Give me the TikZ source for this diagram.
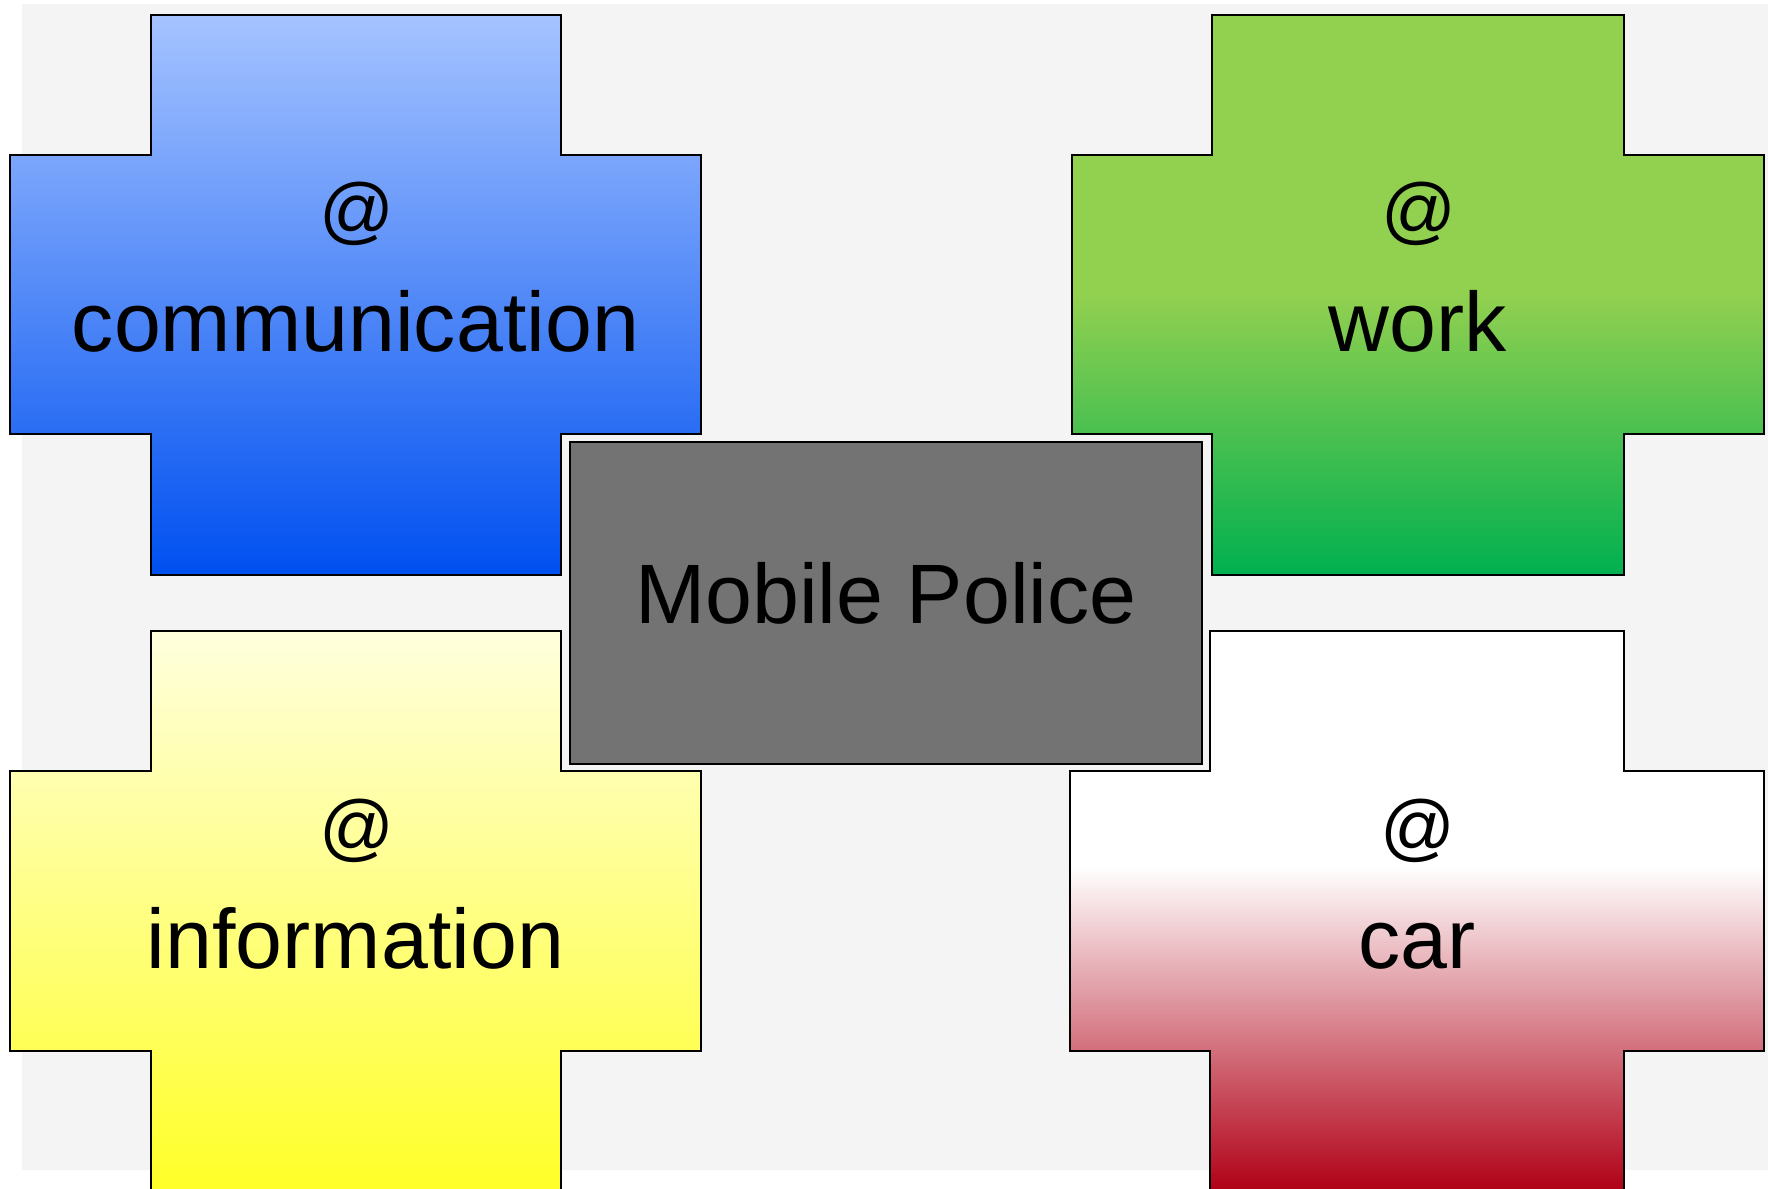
\documentclass[tikz,border=0pt]{standalone}
\usepackage{fontspec}
\setmainfont{Liberation Sans}

\definecolor{canvas}{HTML}{F4F4F4}
\definecolor{skytop}{RGB}{165,195,255}
\definecolor{skybottom}{RGB}{0,80,240}
\definecolor{leaflight}{HTML}{92D050}
\definecolor{leafdark}{HTML}{00B050}
\definecolor{creamtop}{RGB}{255,255,222}
\definecolor{creambottom}{RGB}{255,255,40}
\definecolor{wine}{RGB}{176,0,22}
\definecolor{boxgrey}{HTML}{737373}

\pgfdeclareverticalshading{greenfade}{100bp}{color(0bp)=(leafdark); color(25bp)=(leafdark); color(50bp)=(leaflight); color(100bp)=(leaflight)}
\pgfdeclareverticalshading{redfade}{100bp}{color(0bp)=(wine); color(25bp)=(wine); color(54bp)=(white); color(100bp)=(white)}

\tikzset{
  crossshape/.style={draw=black, line width=1.2pt},
  atsign/.style={anchor=base, inner sep=0pt, font=\fontsize{42}{50}\selectfont},
  crosslabel/.style={anchor=base, inner sep=0pt, font=\fontsize{48}{58}\selectfont},
  centrebox/.style={draw=black, line width=1.2pt, fill=boxgrey, minimum width=12.64cm,
    minimum height=6.44cm, text depth=11pt, font=\fontsize{48}{58}\selectfont}
}

\begin{document}
\begin{tikzpicture}[x=0.02cm, y=-0.02cm]
        \useasboundingbox (0,0) rectangle (1768,1189);
        \fill [canvas] (22,4) rectangle (1768,1170);

        % four crosses
        \draw [crossshape, top color=skytop, bottom color=skybottom]
          (151,15) -- (561,15) -- (561,155) -- (701,155) -- (701,434) -- (561,434) -- (561,575)
          -- (151,575) -- (151,434) -- (10,434) -- (10,155) -- (151,155) -- cycle;
        \draw [crossshape, shade, shading=greenfade]
          (1212,15) -- (1624,15) -- (1624,155) -- (1764,155) -- (1764,434) -- (1624,434) -- (1624,575)
          -- (1212,575) -- (1212,434) -- (1072,434) -- (1072,155) -- (1212,155) -- cycle;
        \draw [crossshape, top color=creamtop, bottom color=creambottom]
          (151,631) -- (561,631) -- (561,771) -- (701,771) -- (701,1051) -- (561,1051) -- (561,1191)
          -- (151,1191) -- (151,1051) -- (10,1051) -- (10,771) -- (151,771) -- cycle;
        \draw [crossshape, shade, shading=redfade]
          (1210,631) -- (1624,631) -- (1624,771) -- (1764,771) -- (1764,1051) -- (1624,1051) -- (1624,1191)
          -- (1210,1191) -- (1210,1051) -- (1070,1051) -- (1070,771) -- (1210,771) -- cycle;

        \node [centrebox] (police) at (886,603) {Mobile Police};

        \node [atsign] (commat) at (357,236) {@};
        \node [crosslabel] (commlabel) at (355.5,352) {communication};
        \node [atsign] (workat) at (1419,236) {@};
        \node [crosslabel] (worklabel) at (1418,352) {work};
        \node [atsign] (infoat) at (357,852) {@};
        \node [crosslabel] (infolabel) at (355.5,968) {information};
        \node [atsign] (carat) at (1418,852) {@};
        \node [crosslabel] (carlabel) at (1417,968) {car};
        \end{tikzpicture}
\end{document}
